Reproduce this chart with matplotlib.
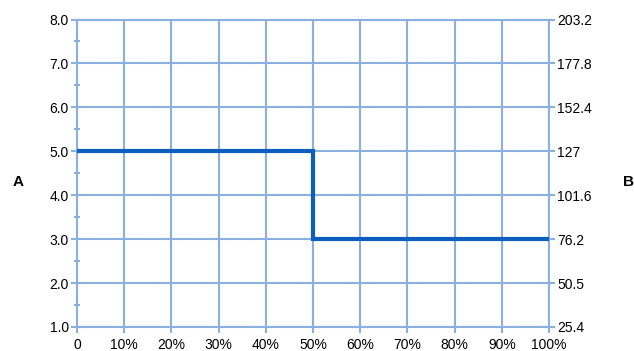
import matplotlib
matplotlib.use("Agg")
import matplotlib.pyplot as plt
from matplotlib.ticker import FixedLocator

plt.rcParams['font.family'] = ['Liberation Sans', 'DejaVu Sans']

x_pct = [0, 50, 100]
a_vals = [5.0, 3.0, 3.0]
left_ticks = [1.0, 2.0, 3.0, 4.0, 5.0, 6.0, 7.0, 8.0]
left_labels = ["1.0", "2.0", "3.0", "4.0", "5.0", "6.0", "7.0", "8.0"]
right_labels = ["25.4", "50.5", "76.2", "101.6", "127", "152.4", "177.8", "203.2"]
x_ticks = [0, 10, 20, 30, 40, 50, 60, 70, 80, 90, 100]
x_labels = ["0"] + [f"{v}%" for v in x_ticks[1:]]

grid_c = "#8AB0E0"
line_c = "#0D5EBF"

fig = plt.figure(figsize=(6.34, 3.51), dpi=100)
ax = fig.add_axes([77/634, 1-327/351, (549-77)/634, (327-19.5)/351])

ax.plot(x_pct, a_vals, drawstyle="steps-post", color=line_c, lw=3.0, solid_joinstyle="miter", zorder=3)
ax.set_xlim(0, 100)
ax.set_ylim(1, 8)
ax.set_xticks(x_ticks)
ax.set_xticklabels(x_labels, fontsize=10)
ax.set_yticks(left_ticks)
ax.set_yticklabels(left_labels, fontsize=10)
ax.yaxis.set_minor_locator(FixedLocator([1.5, 2.5, 3.5, 4.5, 5.5, 6.5, 7.5]))
ax.grid(True, which="major", color=grid_c, lw=1.5)
ax.set_axisbelow(True)
for s in ax.spines.values():
    s.set_color(grid_c)
    s.set_linewidth(1.5)
ax.tick_params(axis="both", which="major", color=grid_c, width=1.5, length=4, pad=2)
ax.tick_params(axis="x", which="major", pad=4)
ax.tick_params(axis="y", which="minor", color=grid_c, width=1.5, length=5, direction="inout")

ax2 = ax.twinx()
ax2.set_ylim(1, 8)
ax2.set_yticks(left_ticks)
ax2.set_yticklabels(right_labels, fontsize=10)
for s in ax2.spines.values():
    s.set_visible(False)
ax2.tick_params(axis="y", color=grid_c, width=1.5, length=4, pad=2)

fig.text(18/634, 1-182.5/351, "A", fontsize=11, fontweight="bold", ha="center", va="center")
fig.text(628/634, 1-182.5/351, "B", fontsize=11, fontweight="bold", ha="center", va="center")

fig.savefig("out.png", dpi=100)
